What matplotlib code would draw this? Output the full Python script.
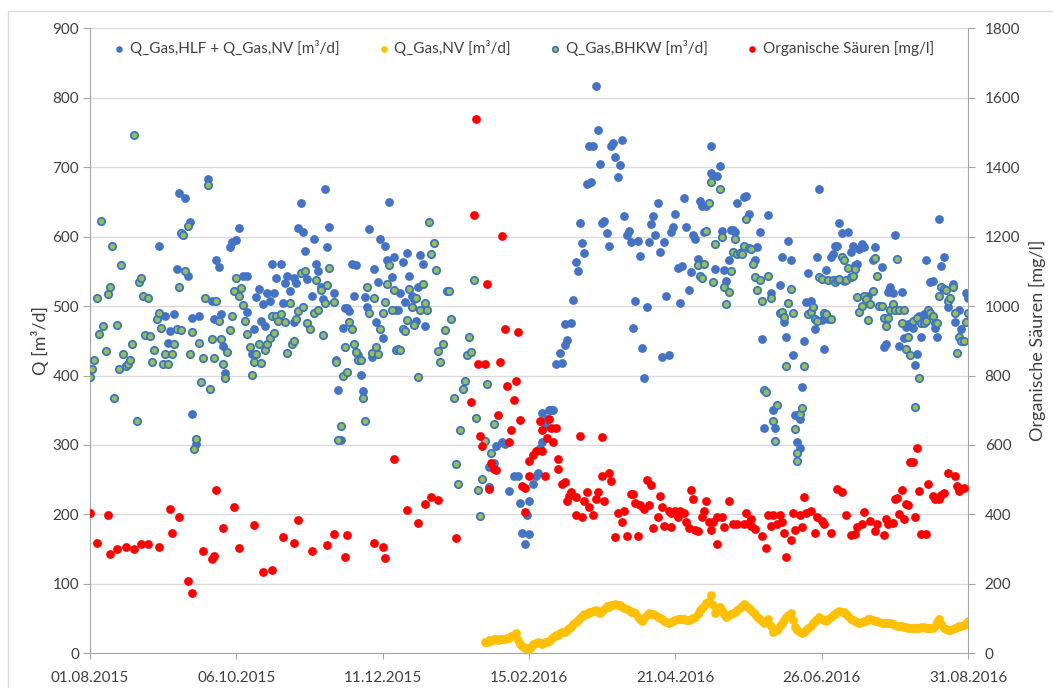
import numpy as np
import matplotlib
matplotlib.use('Agg')
import matplotlib.pyplot as plt
import matplotlib.dates as mdates
from matplotlib.patches import Rectangle

plt.rcParams['font.family'] = ['Lato', 'DejaVu Sans']

# day offsets from 01.08.2015
start = np.datetime64('2015-08-01')

# Q_Gas,BHKW [m3/d] (green)
bhkw_pts = [
    (0, 398), (1, 410), (2, 422), (3, 512), (4, 460), (5, 623), (6, 471), (7, 435), (8, 517), (9, 527),
    (10, 587), (11, 367), (12, 473), (13, 410), (14, 559), (15, 431), (16, 413), (17, 417), (18, 423),
    (19, 446), (20, 747), (21, 335), (22, 535), (23, 540), (24, 515), (25, 459), (26, 512), (27, 457),
    (28, 420), (29, 437), (30, 481), (31, 490), (32, 468), (33, 417), (34, 431), (35, 416), (37, 431),
    (38, 445), (39, 467), (40, 528), (41, 466), (41, 605), (42, 602), (43, 550), (44, 615), (45, 431),
    (46, 462), (47, 294), (48, 309), (49, 447), (50, 391), (51, 425), (52, 512), (53, 674), (54, 380),
    (55, 453), (56, 425), (57, 508), (58, 478), (59, 453), (60, 416), (61, 397), (62, 434), (63, 466),
    (64, 486), (65, 522), (66, 540), (67, 514), (68, 526), (69, 501), (70, 479), (71, 460), (72, 441),
    (73, 401), (74, 420), (75, 431), (76, 445), (77, 418), (79, 437), (80, 445), (81, 454), (82, 486),
    (83, 461), (84, 486), (85, 478), (86, 489), (88, 477), (89, 433), (90, 504), (91, 445), (92, 450),
    (93, 481), (94, 493), (95, 547), (96, 498), (97, 550), (98, 476),
    (99, 467), (101, 490), (102, 538), (103, 495), (104, 523), (105, 459), (106, 504), (107, 531),
    (108, 555), (110, 506), (111, 420), (112, 307), (113, 327), (114, 399), (115, 441), (116, 405),
    (117, 477), (118, 467), (119, 445), (120, 434), (121, 422), (122, 422), (123, 368), (124, 334),
    (125, 527), (126, 490), (127, 433), (128, 512), (129, 441), (130, 431), (131, 467), (132, 490),
    (133, 506), (134, 532), (135, 559), (136, 495), (137, 523), (138, 437), (139, 438), (140, 437),
    (141, 467), (142, 464), (143, 480), (144, 525), (145, 498), (146, 473), (147, 511), (148, 398),
    (149, 494), (150, 532), (151, 505), (152, 495), (153, 621), (154, 575), (155, 591), (156, 552),
    (157, 435), (158, 419), (159, 445), (160, 466), (161, 521), (162, 521), (163, 481), (164, 368),
    (165, 273), (166, 244), (167, 321), (168, 381), (169, 392), (170, 430), (171, 456), (172, 434),
    (173, 538), (174, 339), (175, 235), (176, 198), (177, 251), (178, 306), (179, 388), (180, 239),
    (181, 289), (182, 330),
    (274, 559), (275, 544), (276, 540), (277, 561), (278, 608), (279, 648), (280, 678), (281, 535),
    (282, 589), (284, 669), (285, 600), (286, 527), (287, 503), (288, 520), (289, 550), (290, 578),
    (291, 597), (292, 575), (293, 577), (294, 575), (295, 587), (296, 625), (297, 583), (298, 582),
    (299, 561), (300, 542), (301, 523), (302, 538), (303, 508), (304, 379), (305, 376), (306, 544),
    (307, 512), (308, 334), (309, 306), (310, 357), (311, 490), (312, 492), (313, 484), (314, 414),
    (315, 505), (316, 525), (317, 490), (318, 323), (319, 288), (319, 277), (320, 344), (321, 353),
    (322, 414), (324, 488), (325, 492), (326, 498), (327, 481), (328, 478), (329, 542), (330, 539),
    (331, 490), (332, 488), (333, 537), (334, 481), (335, 538), (336, 534), (337, 538), (338, 539),
    (339, 570), (340, 566), (341, 538), (342, 555), (343, 542), (344, 544), (345, 553), (346, 513),
    (347, 492), (348, 500), (349, 514), (350, 510), (351, 480), (352, 503), (353, 521), (354, 569),
    (355, 544), (356, 500), (357, 500), (358, 483), (359, 471), (360, 483), (361, 494), (362, 503),
    (363, 495), (364, 568), (365, 495), (366, 476), (367, 494), (368, 438), (369, 455), (370, 429),
    (371, 478), (372, 355), (373, 483), (374, 397), (375, 476), (376, 475), (377, 478), (378, 494),
    (379, 490), (380, 485), (381, 475), (382, 475), (383, 515), (384, 527), (385, 525), (386, 523),
    (387, 508), (388, 512), (389, 527), (390, 490), (391, 433), (392, 456), (393, 449), (394, 449),
    (395, 477), (396, 490),
]

# Q_Gas,HLF + Q_Gas,NV [m3/d] (blue), where it differs from the green points
hlf_nv_pts = [
    (31, 587), (34, 486), (35, 447), (36, 464), (38, 489), (39, 554), (40, 663), (43, 656), (44, 544),
    (45, 621), (46, 345), (46, 483), (48, 301), (49, 486), (53, 683), (55, 508), (56, 481), (57, 566),
    (58, 556), (59, 488), (60, 442), (61, 404), (63, 585), (64, 592), (66, 595), (67, 613), (69, 543),
    (71, 543), (71, 491), (73, 431), (74, 467), (75, 513), (76, 525), (77, 479), (78, 503), (79, 471),
    (80, 519), (81, 507), (82, 561), (83, 519), (84, 540), (86, 561), (87, 504), (88, 533), (89, 544),
    (90, 522), (92, 541), (92, 477), (93, 533), (94, 613), (95, 649), (96, 607), (97, 580), (98, 539),
    (100, 514), (101, 597), (102, 560), (103, 550), (104, 527), (105, 510), (106, 668), (107, 585),
    (108, 614), (110, 519), (111, 423), (112, 379), (113, 307), (114, 468), (115, 497), (116, 497),
    (117, 493), (118, 560), (119, 514), (120, 559), (121, 429), (122, 401), (123, 377), (124, 513),
    (125, 498), (126, 611), (127, 426), (128, 553), (129, 477), (130, 535), (131, 597), (132, 454),
    (133, 587), (134, 567), (135, 650), (136, 542), (137, 570), (138, 495), (139, 495), (140, 519),
    (141, 564), (142, 506), (143, 576), (144, 544), (145, 514), (146, 510), (147, 478), (148, 527),
    (149, 574), (150, 560), (151, 471),
    (180, 268), (182, 274), (183, 298), (186, 304), (187, 302), (189, 234), (191, 255), (193, 256),
    (194, 216), (195, 173), (196, 158), (197, 199), (198, 219), (198, 172), (200, 244), (201, 256),
    (202, 260), (203, 296), (204, 304), (204, 346), (205, 327), (206, 338), (207, 350), (208, 350),
    (209, 350), (210, 417), (212, 433), (213, 418), (214, 444), (214, 474), (215, 451), (217, 476),
    (218, 509), (219, 564), (220, 550), (221, 619), (222, 591), (223, 577), (224, 676), (225, 730),
    (226, 679), (227, 730), (228, 817), (229, 754), (230, 704), (231, 620), (232, 622), (233, 605),
    (234, 587), (235, 731), (236, 735), (237, 714), (238, 686), (239, 703), (240, 739), (241, 630),
    (242, 602), (243, 608), (244, 592), (245, 469), (246, 508), (247, 593), (248, 572), (249, 440),
    (250, 397), (251, 499), (252, 592), (253, 618), (254, 629), (255, 603), (256, 649), (257, 578),
    (258, 427), (259, 592), (260, 514), (261, 430), (262, 606), (263, 614), (264, 633), (265, 555),
    (266, 505), (267, 557), (268, 656), (269, 614), (270, 523), (271, 549), (272, 603), (273, 596),
    (274, 568), (275, 652), (276, 644), (277, 607), (278, 644), (280, 731), (280, 692), (281, 688),
    (282, 553), (283, 687), (284, 702), (285, 608), (286, 552), (287, 536), (288, 567), (289, 609),
    (290, 609), (291, 606), (292, 649), (295, 657), (296, 658),
    (297, 633), (300, 567), (301, 585), (302, 606), (303, 452), (304, 324), (306, 631), (307, 519),
    (308, 351), (309, 324), (311, 531), (312, 571), (313, 477), (314, 455), (315, 593), (316, 566),
    (317, 430), (318, 343), (319, 304), (320, 296), (320, 338), (321, 383), (322, 450), (323, 506),
    (324, 548), (325, 507), (327, 467), (328, 571), (329, 669), (330, 480), (331, 438), (332, 552),
    (333, 481), (334, 570), (335, 575), (336, 586), (337, 586), (338, 619), (339, 605), (340, 536),
    (342, 607), (343, 578), (344, 587), (345, 559), (346, 560), (347, 582), (348, 589), (349, 585),
    (351, 515), (353, 567), (354, 585), (357, 556), (358, 441), (359, 446), (360, 520), (361, 528),
    (362, 519), (363, 602), (365, 443), (366, 520), (367, 454), (368, 470), (369, 474), (371, 468),
    (372, 415), (373, 431), (374, 485), (375, 455), (376, 488), (377, 566), (379, 535), (380, 536),
    (381, 469), (382, 455), (383, 625), (384, 557), (385, 571), (387, 498), (389, 532), (390, 477),
    (392, 495), (393, 467), (395, 519), (396, 512),
]

# Q_Gas,NV [m3/d] (yellow), daily from day 178 to day 396
nv_first_day = 178
nv = [
    17, 16, 19, 18, 20, 20, 19, 21, 20, 21,
    22, 22, 25, 27, 29, 19, 14, 10, 8, 7,
    6, 9, 14, 15, 17, 15, 14, 16, 17, 18,
    20, 23, 26, 27, 29, 30, 31, 33, 36, 38,
    42, 45, 48, 51, 54, 56, 57, 59, 60, 61,
    62, 60, 58, 61, 64, 68, 67, 69, 70, 71,
    70, 69, 67, 65, 64, 62, 60, 59, 58, 53,
    49, 46, 51, 55, 58, 57, 56, 55, 53, 51,
    49, 47, 45, 43, 45, 47, 48, 49, 50, 50,
    49, 48, 48, 50, 51, 52, 57, 62, 65, 68,
    72, 76, 84, 70, 58, 62, 67, 62, 57, 53,
    55, 57, 58, 60, 62, 65, 68, 71, 68, 65,
    62, 59, 56, 53, 50, 46, 43, 47, 50, 40,
    31, 33, 34, 40, 44, 48, 52, 55, 58, 48,
    38, 34, 31, 29, 31, 34, 36, 39, 43, 46,
    50, 53, 50, 48, 46, 49, 52, 55, 57, 59,
    61, 60, 59, 57, 54, 50, 48, 46, 45, 44,
    45, 46, 47, 49, 50, 48, 47, 46, 45, 44,
    43, 43, 44, 44, 42, 41, 40, 39, 39, 38,
    38, 37, 37, 36, 36, 37, 37, 38, 38, 37,
    37, 36, 36, 40, 45, 49, 42, 36, 35, 34,
    33, 35, 37, 38, 39, 40, 41, 43, 46,
]

# Organische Saeuren [mg/l] (red, right axis)
acid_pts = [
    (0, 404), (3, 318), (8, 398), (9, 287), (12, 300), (16, 305), (20, 300), (23, 314), (26, 315),
    (31, 306), (36, 417), (37, 347), (40, 393), (44, 207), (46, 175), (51, 295), (55, 271), (56, 281),
    (57, 470), (60, 362), (65, 422), (67, 302), (74, 370), (78, 235), (82, 239), (87, 334), (92, 318),
    (94, 383), (100, 296), (107, 313), (110, 343), (115, 276), (116, 340), (128, 318), (132, 306),
    (133, 275), (137, 559), (143, 412), (148, 376), (151, 429), (154, 451), (157, 442), (165, 333),
    (172, 724), (173, 1261), (174, 1538), (175, 832), (176, 625), (177, 596), (178, 832), (179, 1065),
    (180, 474), (181, 548), (182, 531), (183, 528), (184, 686), (185, 839), (186, 1203), (187, 933),
    (188, 769), (189, 609), (190, 642), (191, 730), (192, 783), (193, 924), (194, 672), (195, 482),
    (196, 407), (196, 476), (198, 510), (198, 554), (200, 570), (201, 582), (203, 670), (204, 642),
    (204, 584), (205, 510), (206, 620), (207, 675), (208, 648), (209, 609), (210, 648), (211, 559),
    (211, 531), (213, 487), (214, 493), (215, 438), (216, 454), (217, 465), (219, 449), (219, 399),
    (221, 625), (222, 393), (223, 438), (224, 465), (225, 421), (227, 399), (228, 443), (229, 465),
    (231, 623), (231, 510), (232, 438), (234, 520), (235, 496), (237, 335), (238, 404), (240, 377),
    (241, 410), (242, 338), (244, 460), (245, 460), (246, 432), (247, 338), (248, 427), (250, 415),
    (251, 498), (252, 427), (253, 485), (254, 360), (256, 393), (257, 454), (258, 421), (259, 368),
    (261, 410), (262, 364), (262, 404), (264, 410), (265, 393), (266, 410), (268, 404), (269, 377),
    (270, 360), (271, 471), (272, 443), (273, 355), (274, 352), (276, 393), (277, 410), (278, 438),
    (279, 377), (280, 355), (281, 377), (283, 316), (283, 393), (285, 393), (286, 364), (288, 438),
    (290, 371), (292, 371), (295, 371), (296, 404), (297, 375), (298, 388), (298, 366), (300, 357),
    (303, 338), (305, 302), (306, 398), (307, 366), (308, 398), (310, 371), (311, 398), (312, 379),
    (313, 347), (314, 277), (316, 327), (317, 404), (318, 355), (320, 398), (321, 364), (322, 451),
    (323, 404), (325, 410), (327, 347), (328, 393), (330, 382), (331, 371), (334, 346), (337, 474),
    (339, 465), (341, 397), (343, 341), (345, 344), (346, 364), (348, 371), (349, 408), (352, 382),
    (354, 351), (355, 371), (358, 340), (359, 388), (360, 371), (362, 375), (363, 443), (364, 446),
    (365, 401), (366, 471), (367, 388), (368, 430), (369, 427), (370, 550), (371, 550), (372, 393),
    (373, 592), (374, 467), (375, 344), (377, 344), (378, 487), (380, 454), (381, 443), (383, 443),
    (384, 456), (385, 462), (387, 520), (390, 512), (391, 482), (392, 467), (394, 476),
]

tick_days = [0, 66, 132, 198, 264, 330, 396]

labels = ['Q_Gas,HLF + Q_Gas,NV [m³/d]', 'Q_Gas,NV [m³/d]',
          'Q_Gas,BHKW [m³/d]', 'Organische Säuren [mg/l]']


def split(pts):
    d = np.array([p[0] for p in pts])
    v = np.array([p[1] for p in pts], dtype=float)
    return start + d.astype('timedelta64[D]'), v


sum_x, sum_y = split(hlf_nv_pts)
bhkw_x, bhkw_y = split(bhkw_pts)
acid_x, acid_y = split(acid_pts)
nv_x = start + (nv_first_day + np.arange(len(nv))).astype('timedelta64[D]')

fig = plt.figure(figsize=(10.53, 6.88), dpi=100)
ax = fig.add_axes([0.0855, 0.0504, 0.8338, 0.9085])
ax2 = ax.twinx()

gray = '#A6A6A6'
txt = '#404040'
s = 40

h1 = ax.scatter(sum_x, sum_y, s=s, color='#4472C4', lw=0, zorder=3)
h2 = ax.scatter(nv_x, nv, s=s, color='#FFC000', lw=0, zorder=3)
h3 = ax.scatter(bhkw_x, bhkw_y, s=28, facecolor='#9BBB59', edgecolor='#3A78BE', lw=1.3, zorder=4)
h4 = ax2.scatter(acid_x, acid_y, s=s, color='#FF0000', lw=0, zorder=3)

ax.set_xlim(start, start + np.timedelta64(396, 'D'))
ax.set_xticks(start + np.array(tick_days).astype('timedelta64[D]'))
ax.xaxis.set_major_formatter(mdates.DateFormatter('%d.%m.%Y'))
ax.set_ylim(0, 900)
ax.set_yticks(range(0, 901, 100))
ax2.set_ylim(0, 1800)
ax2.set_yticks(range(0, 1801, 200))

ax.grid(axis='y', color='#D9D9D9', lw=1)
ax.set_axisbelow(True)

for a in (ax, ax2):
    a.spines['top'].set_visible(False)
    for sp in a.spines.values():
        sp.set_color(gray)
ax.spines['right'].set_visible(False)
ax2.spines['left'].set_visible(False)
ax2.spines['bottom'].set_visible(False)

ax.tick_params(axis='y', length=5, color=gray, labelsize=11, labelcolor=txt, pad=3)
ax.tick_params(axis='x', length=4, color=gray, labelsize=11, labelcolor=txt, pad=9)
ax2.tick_params(axis='y', length=5, color=gray, labelsize=11, labelcolor=txt, pad=7)

ax.set_ylabel('Q [m³/d]', fontsize=13, color=txt)
ax.yaxis.set_label_coords(-0.047, 0.5)
ax2.set_ylabel('Organische Säuren [mg/l]', fontsize=13, color=txt)
ax2.yaxis.set_label_coords(1.07, 0.5)

leg = ax2.legend([h1, h2, h3, h4], labels, ncol=4, loc='upper left', frameon=False,
                 bbox_to_anchor=(113 / 1053, 1 - 40 / 688), bbox_transform=fig.transFigure,
                 fontsize=11, markerscale=0.75, handlelength=0.8, handletextpad=0.3,
                 columnspacing=2.5, borderpad=0, borderaxespad=0)
for t in leg.get_texts():
    t.set_color(txt)

fig.add_artist(Rectangle((8 / 1053, -0.1), 1.2, 1.1 - 11 / 688, transform=fig.transFigure,
                         fill=False, ec='#D9D9D9', lw=1))

fig.savefig('out.png', dpi=100)
